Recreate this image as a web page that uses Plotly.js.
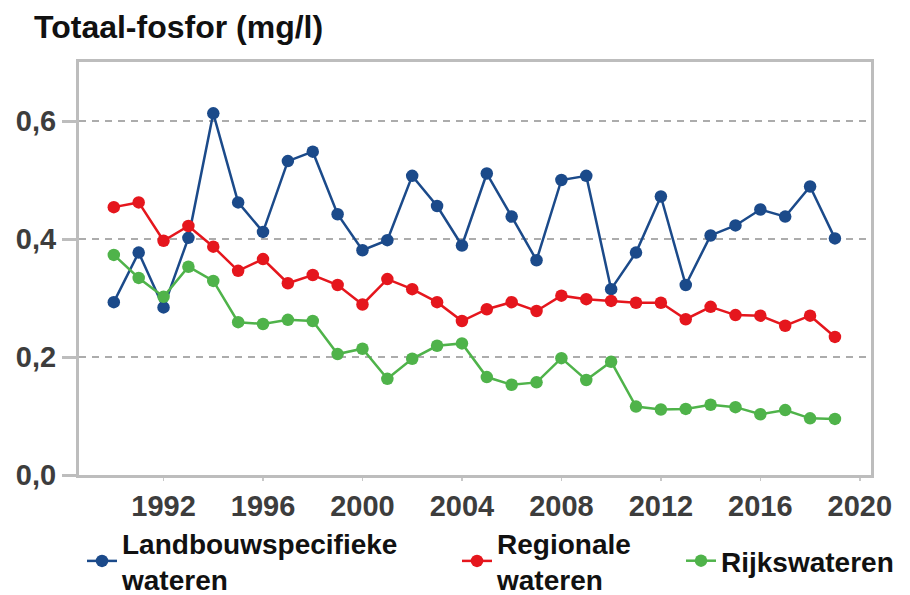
<!DOCTYPE html>
<html>
<head>
<meta charset="utf-8">
<script src="https://cdn.plot.ly/plotly-3.0.1.min.js"></script>
<style>
html,body{margin:0;padding:0;background:#fff;}
#chart{width:910px;height:595px;}
</style>
</head>
<body>
<div id="chart"></div>
<script>
const years = [1990,1991,1992,1993,1994,1995,1996,1997,1998,1999,2000,2001,2002,2003,2004,2005,2006,2007,2008,2009,2010,2011,2012,2013,2014,2015,2016,2017,2018,2019];
const landbouw = [0.293,0.377,0.284,0.402,0.613,0.462,0.412,0.532,0.548,0.442,0.381,0.398,0.507,0.456,0.389,0.511,0.438,0.364,0.500,0.507,0.315,0.377,0.472,0.322,0.406,0.423,0.450,0.438,0.489,0.401];
const regionale = [0.454,0.462,0.397,0.422,0.387,0.346,0.366,0.325,0.339,0.322,0.289,0.332,0.315,0.293,0.261,0.281,0.293,0.278,0.304,0.298,0.295,0.292,0.292,0.264,0.285,0.271,0.270,0.253,0.270,0.234];
const rijks = [0.373,0.334,0.302,0.353,0.329,0.259,0.256,0.263,0.261,0.205,0.214,0.163,0.197,0.219,0.223,0.166,0.153,0.157,0.198,0.161,0.192,0.116,0.111,0.112,0.119,0.115,0.103,0.110,0.096,0.095];
const seriesNames = ["Landbouwspecifieke<br>wateren","Regionale<br>wateren","Rijkswateren"];
const yTicks = [0,0.2,0.4,0.6];
const xTicks = [1992,1996,2000,2004,2008,2012,2016,2020];

const colors = ["#1b4a8a","#e5161d","#4fb34a"];
const font = "Liberation Sans, Arial, Helvetica, sans-serif";

const data = [landbouw, regionale, rijks].map((vals,i)=>({
  x: years, y: vals, type: "scatter", mode: "lines+markers",
  name: seriesNames[i],
  line: {color: colors[i], width: 2.5},
  marker: {color: colors[i], size: 12.5},
  legend: i===0 ? "legend" : (i===1 ? "legend2" : "legend3")
}));

const legendBase = {
  orientation: "h", xref: "container", yref: "container",
  yanchor: "middle", xanchor: "left",
  font: {family: font, size: 28, color: "#111", weight: "bold"},
  bgcolor: "rgba(0,0,0,0)", valign: "middle", itemwidth: 30
};

const layout = {
  width: 910, height: 595,
  margin: {l: 79, r: 39, t: 62, b: 120},
  paper_bgcolor: "#fff", plot_bgcolor: "#fff",
  title: {text: "<b>Totaal-fosfor (mg/l)</b>", x: 34/910, xanchor: "left", xref: "container",
          y: 1-27/595, yanchor: "middle", yref: "container",
          font: {family: font, size: 32, color: "#111"}},
  xaxis: {
    range: [1988.6, 2020.45], tickvals: xTicks, ticktext: xTicks.map(String),
    showgrid: false, zeroline: false,
    showline: true, linecolor: "#bdbdbd", linewidth: 3, mirror: true,
    ticks: "outside", ticklen: 3, tickwidth: 1.5, tickcolor: "#c8c8c8",
    tickfont: {family: font, size: 29, color: "#3d3d3d", weight: "bold"},
  },
  yaxis: {
    range: [0, 0.7], tickvals: yTicks, tickformat: ".1f",
    showgrid: true, gridcolor: "#acacac", gridwidth: 2.5, griddash: "7px,6px",
    zeroline: false,
    showline: true, linecolor: "#bdbdbd", linewidth: 3, mirror: true,
    ticks: "outside", ticklen: 14, tickwidth: 3, tickcolor: "#bdbdbd",
    tickfont: {family: font, size: 29, color: "#3d3d3d", weight: "bold"},
  },
  separators: ",.",
  showlegend: true,
  legend: Object.assign({}, legendBase, {x: 82/910, y: 1-561/595}),
  legend2: Object.assign({}, legendBase, {x: 457/910, y: 1-561/595}),
  legend3: Object.assign({}, legendBase, {x: 681/910, y: 1-561/595}),
};

Plotly.newPlot("chart", data, layout, {displayModeBar: false, staticPlot: true});
</script>
</body>
</html>
